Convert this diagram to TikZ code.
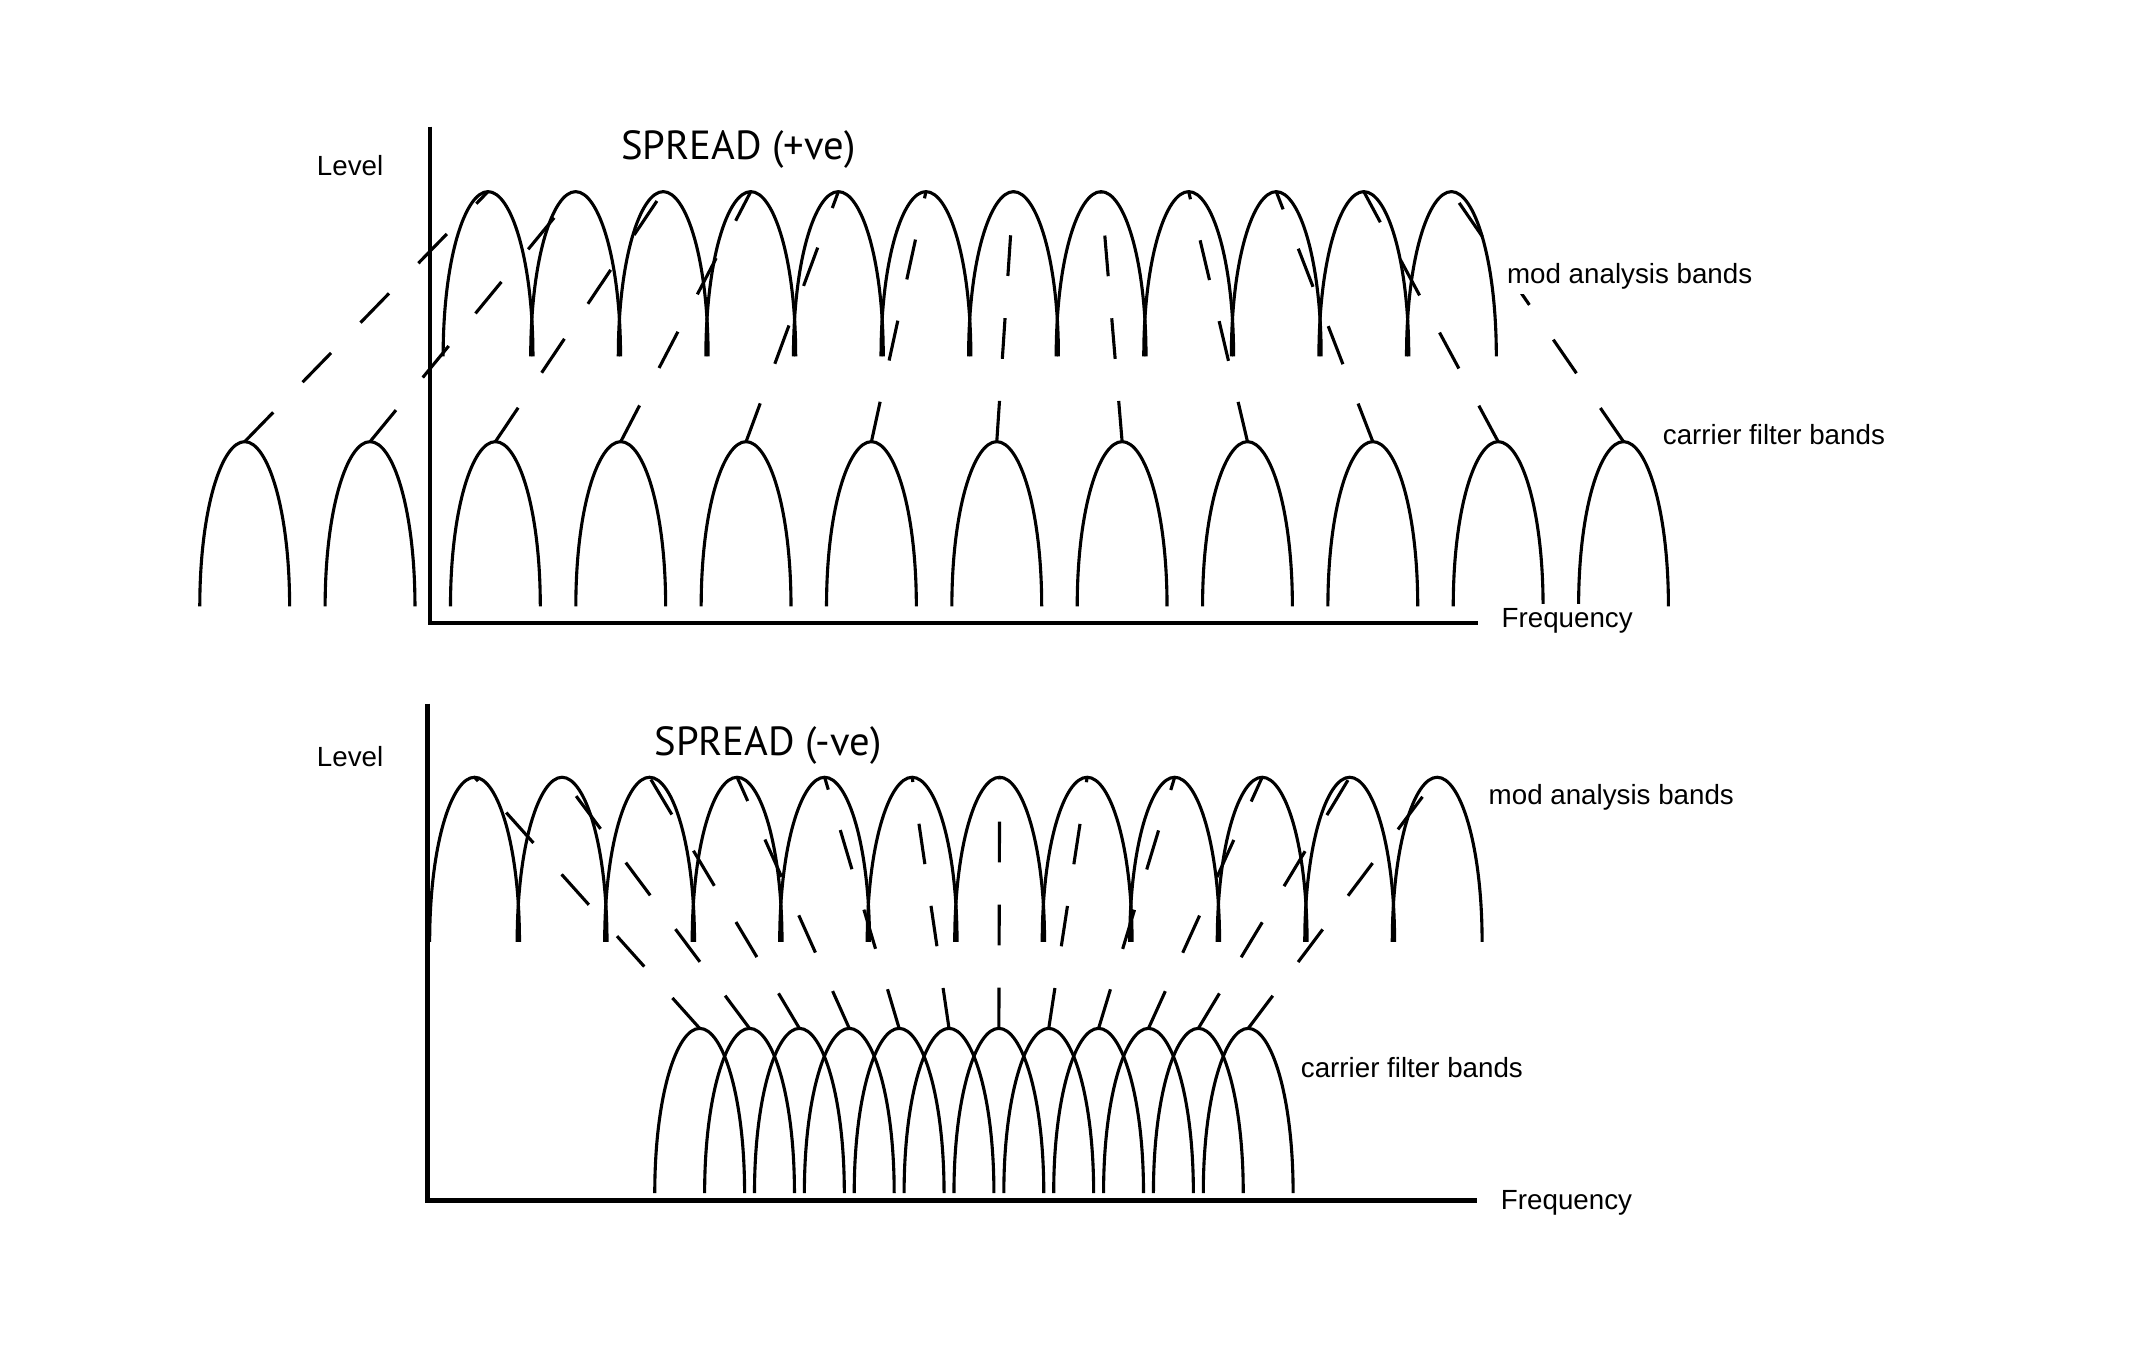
\documentclass[tikz,border=0pt]{standalone}
\usepackage{fontspec}
\setmainfont{Liberation Sans}
\newfontfamily\spreadfont{PT Sans}
\usetikzlibrary{positioning}

\begin{document}
\begin{tikzpicture}[
            x=0.02cm, y=-0.02cm,
            bandline/.style={line width=1.3pt},
            axisline/.style={line width=1.8pt},
            linkline/.style={line width=1.3pt, dash pattern=on 0.6cm off 0.62cm},
            lbl/.style={font=\fontsize{11.6}{14}\selectfont, inner sep=2pt, fill=white, anchor=base west},
            spreadlbl/.style={font=\spreadfont\fontsize{17}{20}\selectfont, inner sep=0pt, anchor=base west},
            band/.pic={\draw[bandline] (-33,121) .. controls (-33,50) and (-17,0) .. (0,0) .. controls (17,0) and (33,50) .. (33,121);}
        ]
            \useasboundingbox (0,0) rectangle (1568,1001);
            \foreach \k in {1,...,12} {
                \coordinate (tm\k) at ({358.6+64.35*(\k-1)},140.8);
                \coordinate (tc\k) at ({179.8+92.1*(\k-1)},324.5);
                \coordinate (bm\k) at ({348.7+64.3*(\k-1)},571.1);
                \coordinate (bc\k) at ({514.1+36.64*(\k-1)},755.6);
            }
            \coordinate (ty) at (316,93);
            \coordinate (to) at (316,458);
            \coordinate (tx) at (1086,458);
            \coordinate (by) at (314,517);
            \coordinate (bo) at (314,882);
            \coordinate (bx) at (1085,882);
            \draw[axisline] (ty) -- (to) -- (tx);
            \draw[axisline] (by) -- (bo) -- (bx);
            \foreach \k in {1,...,12} {
                \pic at (tm\k) {band};
                \pic at (tc\k) {band};
                \pic at (bm\k) {band};
                \pic at (bc\k) {band};
                \draw[linkline] (tc\k) -- (tm\k);
                \draw[linkline] (bc\k) -- (bm\k);
            }
            \node[lbl] (tlevel) at (229,128.6) {Level};
            \node[spreadlbl] (tspread) at (456,117) {SPREAD (+ve)};
            \node[lbl] (tmod) at (1103.5,208.2) {mod analysis bands};
            \node[lbl] (tcar) at (1218,326.5) {carrier filter bands};
            \node[lbl] (tfreq) at (1099.5,461) {Frequency};
            \node[lbl] (blevel) at (229,563.5) {Level};
            \node[spreadlbl] (bspread) at (480.5,555) {SPREAD (-ve)};
            \node[lbl] (bmod) at (1090,591) {mod analysis bands};
            \node[lbl] (bcar) at (952,791.5) {carrier filter bands};
            \node[lbl] (bfreq) at (1099,888.5) {Frequency};
        \end{tikzpicture}
\end{document}
